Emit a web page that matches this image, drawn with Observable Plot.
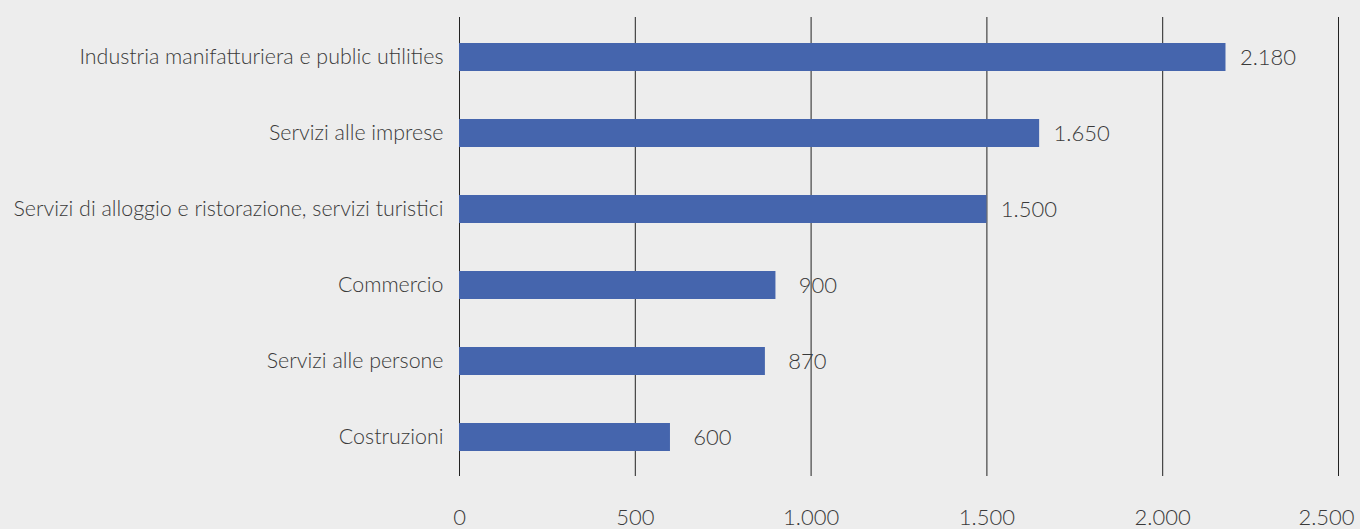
<!DOCTYPE html>
<html>
<head>
<meta charset="utf-8">
<script src="https://cdn.jsdelivr.net/npm/d3@7"></script>
<script src="https://cdn.jsdelivr.net/npm/@observablehq/plot@0.6"></script>
<style>
  html, body { margin: 0; padding: 0; background: #ededed; }
  #chart svg { display: block; }
</style>
</head>
<body>
<div id="chart"></div>
<script>
const categories = [
  "Industria manifatturiera e public utilities",
  "Servizi alle imprese",
  "Servizi di alloggio e ristorazione, servizi turistici",
  "Commercio",
  "Servizi alle persone",
  "Costruzioni"
];
const values = [2180, 1650, 1500, 900, 870, 600];
const xTicks = [0, 500, 1000, 1500, 2000, 2500];

const data = categories.map((c, i) => ({category: c, value: values[i]}));
const it = d3.formatLocale({decimal: ",", thousands: ".", grouping: [3], currency: ["€", ""]});
const fmt = it.format(",");

const FONT = "Lato, 'DejaVu Sans Condensed', sans-serif";
const TEXT = "#3a3a3a";

const chart = Plot.plot({
  width: 1360,
  height: 529,
  marginLeft: 459,
  marginRight: 22,
  marginTop: 17,
  marginBottom: 53,
  style: {background: "#ededed", fontFamily: FONT, fontSize: "22px", fontWeight: 300, color: TEXT},
  x: {domain: [0, 2500], label: null},
  y: {domain: categories, paddingInner: 0.634, paddingOuter: 0.317, label: null},
  marks: [
    Plot.ruleX(xTicks, {stroke: "#222", strokeWidth: 1}),
    Plot.barX(data, {x: "value", y: "category", fill: "#4565ad"}),
    Plot.text(data, {x: "value", y: "category", text: d => fmt(d.value), dx: 42, textAnchor: "middle", fill: TEXT, fontSize: 22}),
    Plot.axisY({tickSize: 0, tickPadding: 16, label: null, fill: TEXT, fontSize: 21.4}),
    Plot.axisX(xTicks.slice(0, -1), {tickSize: 0, tickPadding: 33, tickFormat: fmt, label: null, fill: TEXT}),
    Plot.axisX(xTicks.slice(-1), {tickSize: 0, tickPadding: 33, tickFormat: fmt, label: null, fill: TEXT, dx: -12})
  ]
});
document.getElementById("chart").append(chart);
</script>
</body>
</html>
